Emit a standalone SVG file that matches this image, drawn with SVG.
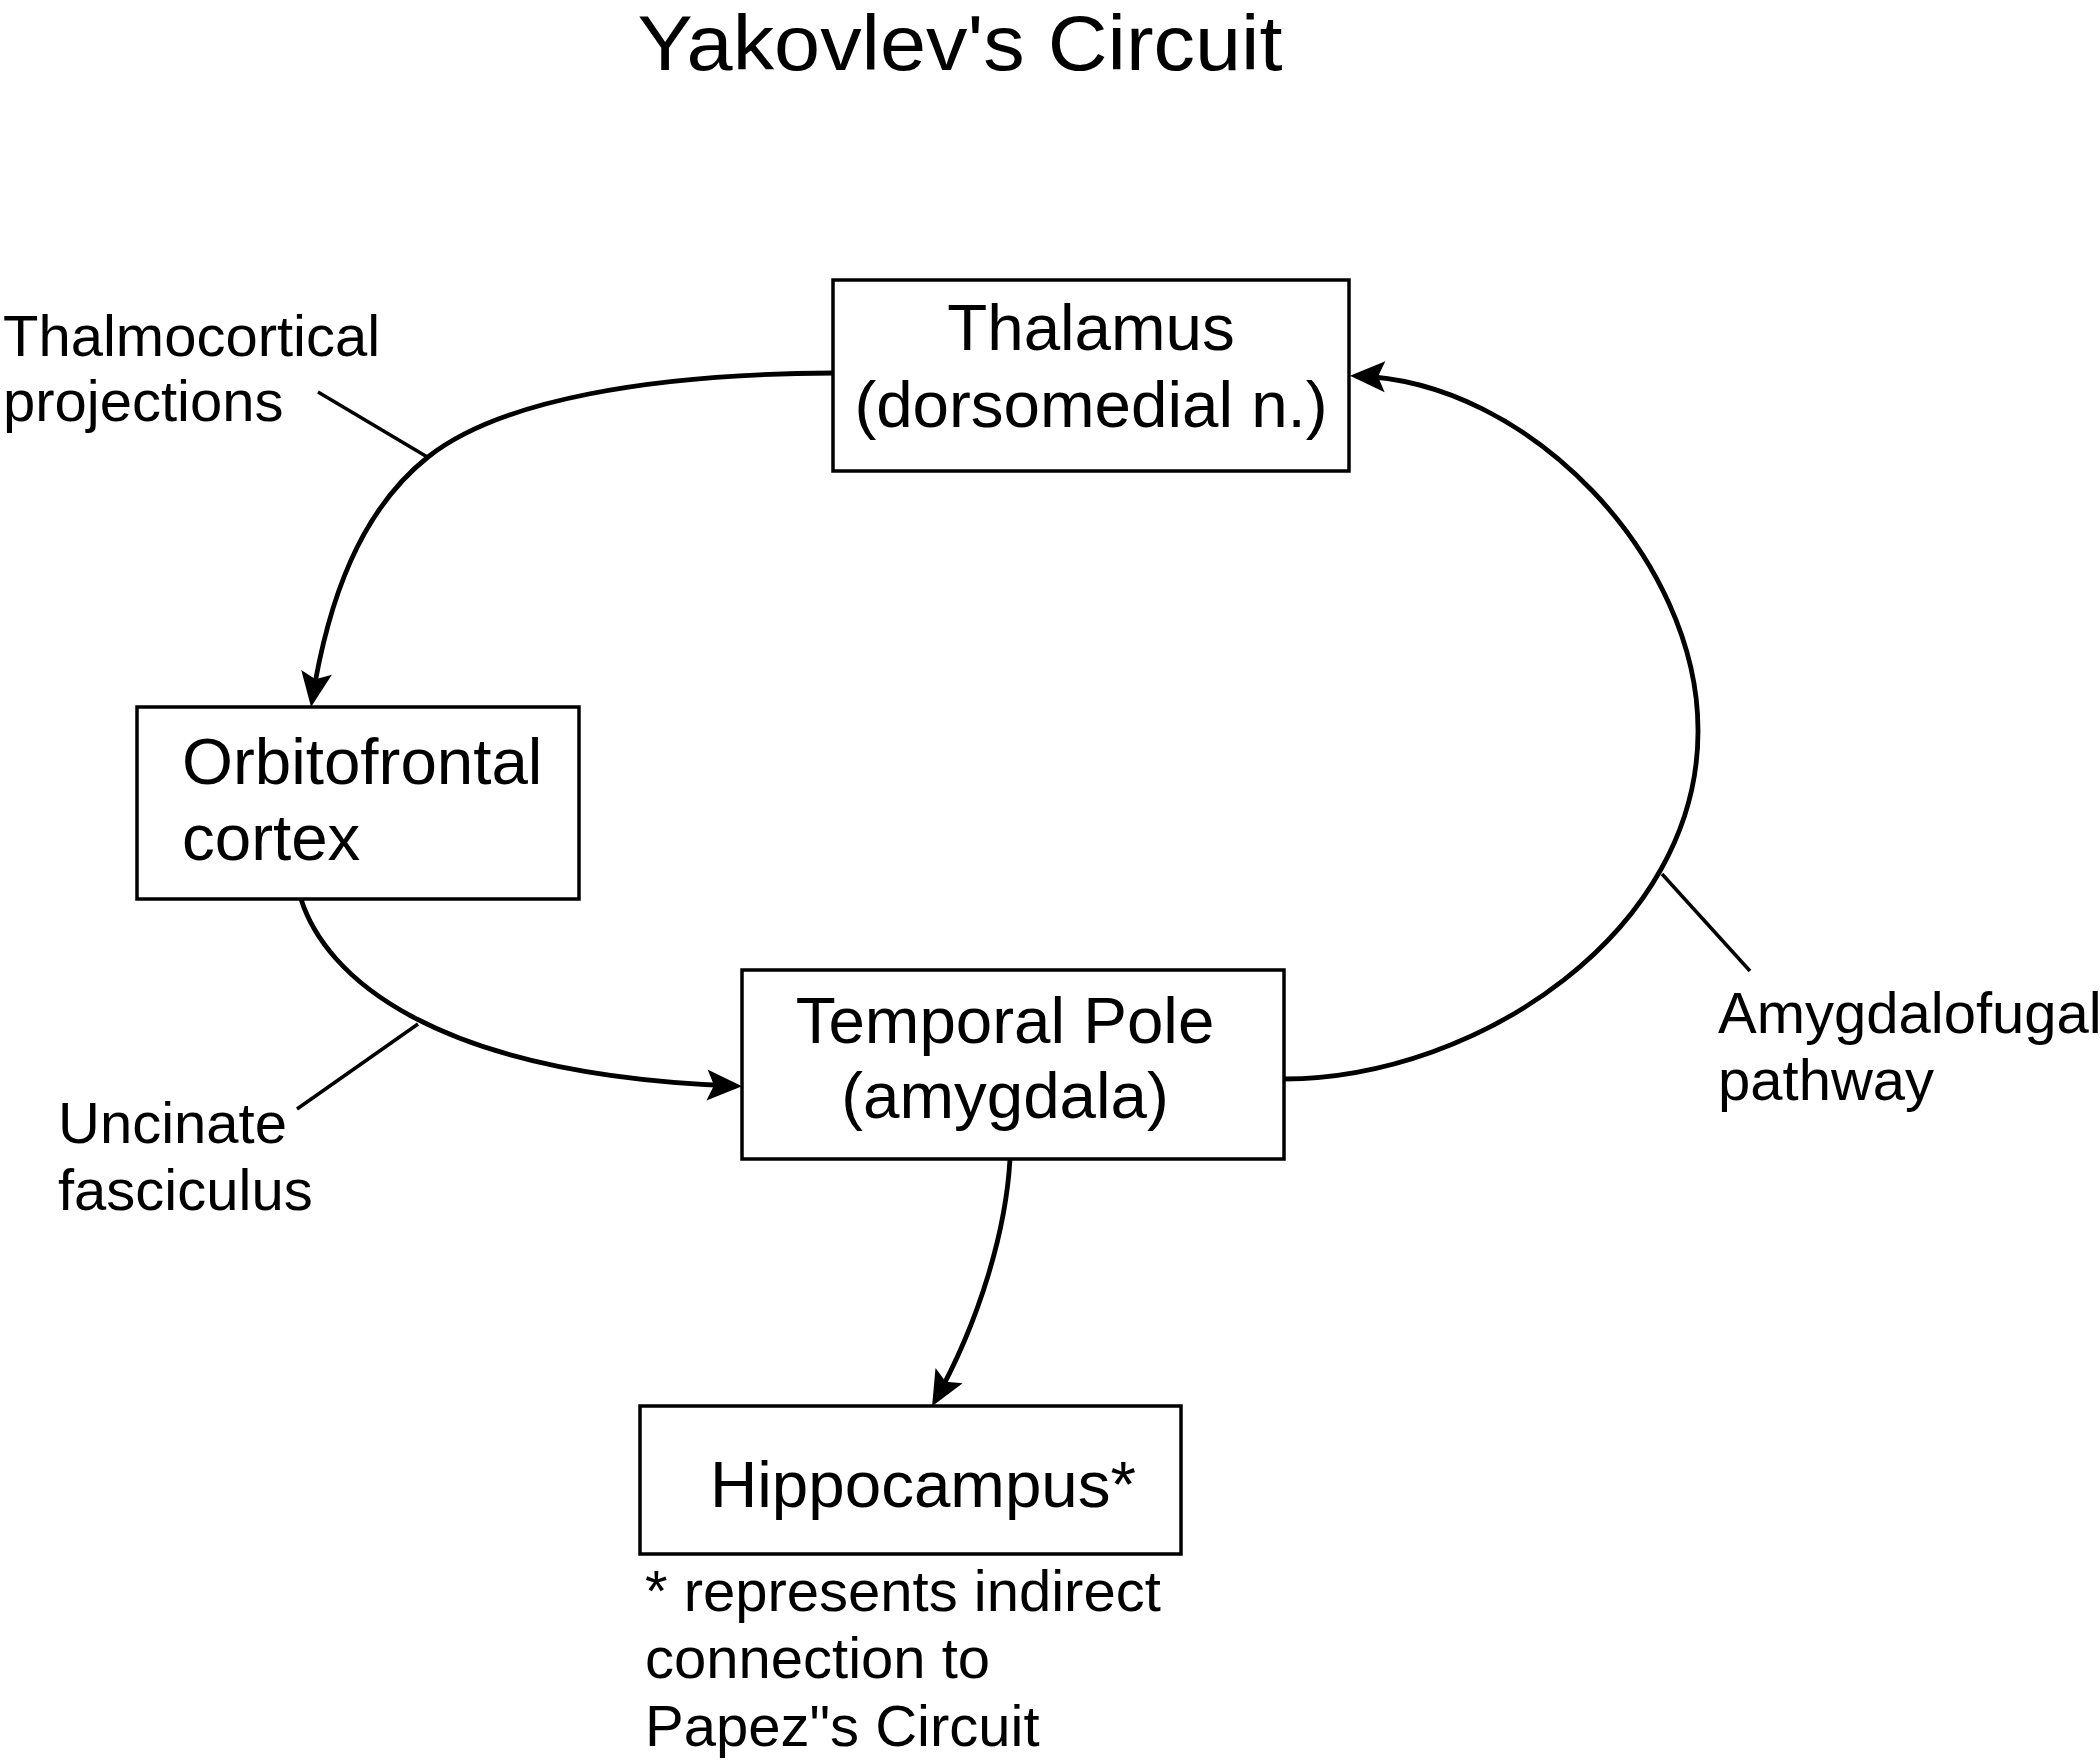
<svg xmlns="http://www.w3.org/2000/svg" width="2100" height="1764" viewBox="0 0 2100 1764">
<style>
  .box { fill: #ffffff; stroke: #000000; stroke-width: 3.5; }
  .node { font-family: "Liberation Sans", Arial, sans-serif; font-size: 65.5px; fill: #000000; }
  .lbl { font-family: "Liberation Sans", Arial, sans-serif; font-size: 58px; fill: #000000; }
  .title { font-family: "Liberation Sans", Arial, sans-serif; font-size: 77px; fill: #000000; }
  .edge { fill: none; stroke: #000000; stroke-width: 4.8; }
  .ptr { fill: none; stroke: #000000; stroke-width: 3.5; }
</style>
<defs>
  <marker id="arrow" markerUnits="userSpaceOnUse" viewBox="-30 -16 38 32" refX="0" refY="0" markerWidth="38" markerHeight="32" orient="auto" overflow="visible">
    <path d="M6,0 L-29,-15.5 L-22,0 L-29,15.5 Z" fill="#000000"/>
  </marker>
</defs>
<rect width="2100" height="1764" fill="#ffffff"/>

<text class="title" x="960" y="70" text-anchor="middle" textLength="645" lengthAdjust="spacingAndGlyphs">Yakovlev's Circuit</text>

<g id="connectors">
  <path class="edge" d="M833,373 C650,374 500,400 428,457 C360,511 328,600 312,701" marker-end="url(#arrow)"/>
  <path class="edge" d="M301,899 C325,975 430,1075 736,1086" marker-end="url(#arrow)"/>
  <path class="edge" d="M1284,1079 C1480,1078 1699,930 1698,730 C1698,560 1530,380 1356,376" marker-end="url(#arrow)"/>
  <path class="edge" d="M1010,1159 C1006,1230 980,1320 935,1401" marker-end="url(#arrow)"/>
  <line class="ptr" x1="318" y1="392" x2="429" y2="458"/>
  <line class="ptr" x1="297" y1="1109" x2="418" y2="1024"/>
  <line class="ptr" x1="1750" y1="971" x2="1662" y2="874"/>
</g>

<g id="thalamus">
  <rect class="box" x="833" y="280" width="516" height="191"/>
  <text class="node" x="1091" y="350" text-anchor="middle">Thalamus</text>
  <text class="node" x="1091" y="427" text-anchor="middle">(dorsomedial n.)</text>
</g>

<g id="orbitofrontal">
  <rect class="box" x="137" y="707" width="442" height="192"/>
  <text class="node" x="182" y="784">Orbitofrontal</text>
  <text class="node" x="182" y="860">cortex</text>
</g>

<g id="temporal-pole">
  <rect class="box" x="742" y="970" width="542" height="189"/>
  <text class="node" x="1005" y="1043" text-anchor="middle">Temporal Pole</text>
  <text class="node" x="1005" y="1118" text-anchor="middle">(amygdala)</text>
</g>

<g id="hippocampus">
  <rect class="box" x="640" y="1406" width="541" height="148"/>
  <text class="node" x="710" y="1507">Hippocampus*</text>
</g>

<g id="label-thalmocortical">
  <text class="lbl" x="3" y="356">Thalmocortical</text>
  <text class="lbl" x="3" y="421">projections</text>
</g>

<g id="label-uncinate">
  <text class="lbl" x="58" y="1143">Uncinate</text>
  <text class="lbl" x="58" y="1210">fasciculus</text>
</g>

<g id="label-amygdalofugal">
  <text class="lbl" x="1718" y="1033">Amygdalofugal</text>
  <text class="lbl" x="1718" y="1100">pathway</text>
</g>

<g id="footnote">
  <text class="lbl" x="645" y="1611">* represents indirect</text>
  <text class="lbl" x="645" y="1678">connection to</text>
  <text class="lbl" x="645" y="1746">Papez"s Circuit</text>
</g>
</svg>
